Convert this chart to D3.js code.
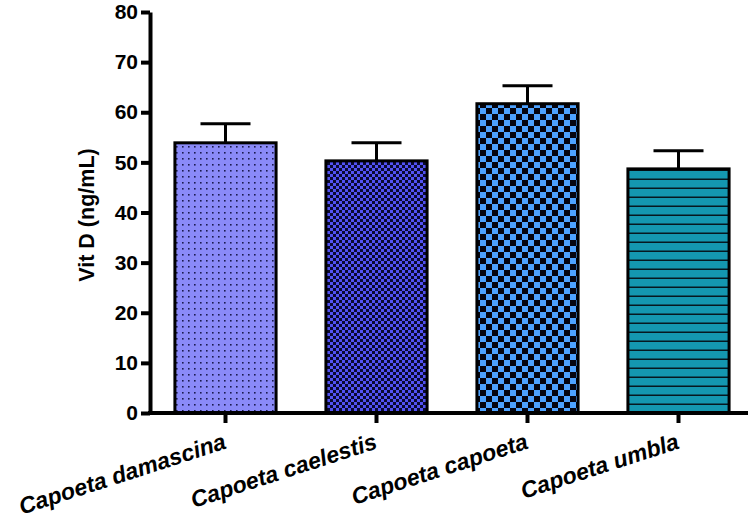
<!DOCTYPE html>
<html lang="en">
<head>
    <meta charset="utf-8">
    <title>Vit D by species</title>
    <style>
        body { margin: 0; background-color: white; }
        .axis text { font: bold 21px "Liberation Sans", Arial, sans-serif; fill: #000; }
        .axis path, .axis line { fill: none; stroke: #000; stroke-width: 4px; }
        .xlabel { font: italic bold 23px "Liberation Sans", Arial, sans-serif; }
    </style>
</head>
<body>
    <script src="https://d3js.org/d3.v7.min.js"></script>
    <svg width="748" height="517"></svg>
    <script>
        // data
        var species = ["Capoeta damascina", "Capoeta caelestis", "Capoeta capoeta", "Capoeta umbla"];
        var means = [53.9, 50.3, 61.7, 48.7];
        var sems = [3.8, 3.6, 3.6, 3.6];
        var yTicks = [0, 10, 20, 30, 40, 50, 60, 70, 80];

        var svg = d3.select("svg");

        // scales
        var x = d3.scaleBand().domain(species).range([150, 754]).paddingInner(0.33).paddingOuter(0.165);
        var y = d3.scaleLinear().domain([0, 80]).range([413, 12]);

        // patterns
        var defs = svg.append("defs");

        var p1 = defs.append("pattern").attr("id", "dots")
            .attr("patternUnits", "userSpaceOnUse").attr("width", 6).attr("height", 6);
        p1.append("rect").attr("width", 6).attr("height", 6).attr("fill", "#8a8af8");
        p1.append("rect").attr("x", 2).attr("y", 2).attr("width", 1.6).attr("height", 1.6).attr("fill", "#1a1a50");

        var p2 = defs.append("pattern").attr("id", "finecheck")
            .attr("patternUnits", "userSpaceOnUse").attr("width", 6).attr("height", 6);
        p2.append("rect").attr("width", 6).attr("height", 6).attr("fill", "#0a0a30");
        p2.append("rect").attr("width", 3).attr("height", 3).attr("fill", "#5252f2");
        p2.append("rect").attr("x", 3).attr("y", 3).attr("width", 3).attr("height", 3).attr("fill", "#5252f2");

        var p3 = defs.append("pattern").attr("id", "bigcheck")
            .attr("patternUnits", "userSpaceOnUse").attr("width", 12).attr("height", 12);
        p3.append("rect").attr("width", 12).attr("height", 12).attr("fill", "#050510");
        p3.append("rect").attr("width", 6).attr("height", 6).attr("fill", "#4da2ff");
        p3.append("rect").attr("x", 6).attr("y", 6).attr("width", 6).attr("height", 6).attr("fill", "#4da2ff");

        var p4 = defs.append("pattern").attr("id", "hlines")
            .attr("patternUnits", "userSpaceOnUse").attr("width", 9).attr("height", 9);
        p4.append("rect").attr("width", 9).attr("height", 9).attr("fill", "#1497b0");
        p4.append("rect").attr("y", 7.5).attr("width", 9).attr("height", 1.6).attr("fill", "#061820");

        var fills = ["url(#dots)", "url(#finecheck)", "url(#bigcheck)", "url(#hlines)"];

        // error bars
        var g = svg.append("g");
        species.forEach(function(s, i) {
            var cx = x(s) + x.bandwidth() / 2;
            g.append("line")
                .attr("x1", cx).attr("x2", cx)
                .attr("y1", y(means[i])).attr("y2", y(means[i] + sems[i]))
                .attr("stroke", "#000").attr("stroke-width", 3);
            g.append("line")
                .attr("x1", cx - 25).attr("x2", cx + 25)
                .attr("y1", y(means[i] + sems[i])).attr("y2", y(means[i] + sems[i]))
                .attr("stroke", "#000").attr("stroke-width", 3);
        });

        // bars
        g.selectAll(".bar")
            .data(species)
            .enter()
            .append("rect")
            .attr("class", "bar")
            .attr("x", function(d) { return x(d); })
            .attr("width", x.bandwidth())
            .attr("y", function(d, i) { return y(means[i]); })
            .attr("height", function(d, i) { return y(0) - y(means[i]); })
            .attr("fill", function(d, i) { return fills[i]; })
            .attr("stroke", "#000")
            .attr("stroke-width", 3);

        // y axis
        svg.append("g")
            .attr("class", "axis")
            .attr("transform", "translate(150,0)")
            .call(d3.axisLeft(y).tickValues(yTicks).tickSize(9).tickPadding(3).tickSizeOuter(0));

        // x axis
        var xa = svg.append("g")
            .attr("class", "axis")
            .attr("transform", "translate(0,413)")
            .call(d3.axisBottom(x).tickSize(10).tickSizeOuter(0).tickFormat(""));
        xa.select(".domain").attr("d", "M148,0H748");

        // x labels
        svg.selectAll(".xlabel")
            .data(species)
            .enter()
            .append("text")
            .attr("class", "xlabel")
            .attr("text-anchor", "end")
            .attr("transform", function(d) {
                return "translate(" + (x(d) + x.bandwidth() / 2 + 2) + ",448) rotate(-18)";
            })
            .text(function(d) { return d; });

        // y label
        svg.append("text")
            .attr("transform", "translate(94,215) rotate(-90)")
            .attr("text-anchor", "middle")
            .attr("font-family", "Liberation Sans, Arial, sans-serif")
            .attr("font-weight", "bold")
            .attr("font-size", "21.5px")
            .text("Vit D (ng/mL)");
    </script>
</body>
</html>
